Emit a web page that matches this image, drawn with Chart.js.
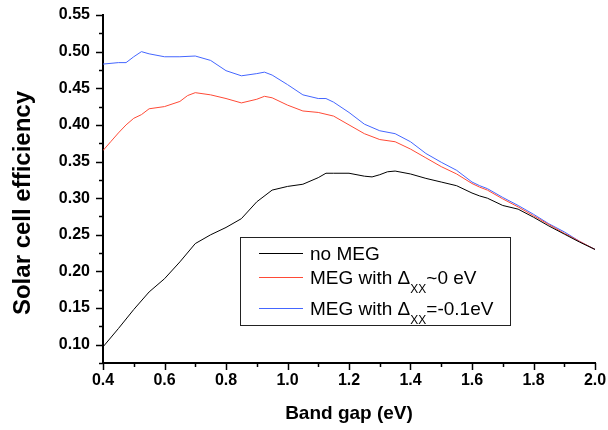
<!DOCTYPE html>
<html>
<head>
<meta charset="utf-8">
<script src="https://cdn.jsdelivr.net/npm/chart.js@4"></script>
<style>
  html, body { margin: 0; padding: 0; background: #fff; }
  #wrap { width: 608px; height: 430px; position: relative; }
</style>
</head>
<body>
<div id="wrap"><canvas id="chart"></canvas></div>
<script>
// band gap (eV) and efficiency
const blackGap = [0.40,0.45,0.50,0.55,0.60,0.65,0.70,0.75,0.80,0.85,0.90,0.95,1.00,1.05,1.10,1.125,1.15,1.20,1.25,1.275,1.30,1.325,1.35,1.40,1.45,1.50,1.55,1.60,1.625,1.65,1.70,1.75,1.80,1.85,1.90,1.95,2.00];
const blackEff = [0.097,0.122,0.148,0.172,0.190,0.213,0.238,0.250,0.260,0.272,0.295,0.311,0.316,0.319,0.328,0.334,0.334,0.334,0.330,0.329,0.332,0.336,0.337,0.333,0.327,0.322,0.317,0.307,0.303,0.300,0.290,0.285,0.274,0.262,0.251,0.240,0.230];

const redGap = [0.40,0.425,0.45,0.475,0.50,0.525,0.55,0.60,0.65,0.675,0.70,0.75,0.80,0.85,0.90,0.925,0.95,1.00,1.05,1.10,1.15,1.20,1.25,1.30,1.35,1.40,1.45,1.50,1.55,1.60,1.625,1.65,1.70,1.75,1.80,1.85,1.90,1.95,2.00];
const redEff = [0.365,0.377,0.389,0.400,0.409,0.414,0.422,0.425,0.432,0.440,0.444,0.441,0.436,0.430,0.435,0.439,0.437,0.427,0.419,0.417,0.412,0.400,0.388,0.380,0.377,0.367,0.355,0.343,0.333,0.320,0.315,0.311,0.299,0.288,0.276,0.264,0.252,0.241,0.230];

const blueGap = [0.40,0.45,0.475,0.50,0.525,0.55,0.60,0.65,0.70,0.75,0.80,0.85,0.90,0.925,0.95,1.00,1.05,1.10,1.125,1.15,1.20,1.25,1.30,1.35,1.40,1.45,1.50,1.55,1.60,1.625,1.65,1.70,1.75,1.80,1.85,1.90,1.95,2.00];
const blueEff = [0.483,0.485,0.485,0.493,0.500,0.497,0.493,0.493,0.494,0.488,0.474,0.467,0.470,0.472,0.468,0.455,0.441,0.436,0.436,0.431,0.417,0.401,0.392,0.388,0.377,0.361,0.349,0.338,0.322,0.317,0.313,0.301,0.290,0.278,0.265,0.254,0.241,0.230];

const legendRows = [
  { color: '#000000', text: 'no MEG', sub: '', tail: '' },
  { color: '#ff4a36', text: 'MEG with \u0394', sub: 'XX', tail: '~0 eV' },
  { color: '#4466ff', text: 'MEG with \u0394', sub: 'XX', tail: '=-0.1eV' }
];

const FONT = '"Liberation Sans", Arial, sans-serif';

function pts(xs, ys) {
  return xs.map(function (x, i) { return { x: x, y: ys[i] }; });
}

// minor/major tick marks, axis titles and the boxed legend
const extras = {
  id: 'extras',
  afterDraw(chart) {
    const ctx = chart.ctx;
    const xs = chart.scales.x, ys = chart.scales.y;
    const area = chart.chartArea;
    ctx.save();
    ctx.strokeStyle = '#000';
    ctx.lineWidth = 1.5;
    ys.ticks.forEach(function (t) {
      const k = Math.round(t.value * 1000);
      const len = k % 50 === 0 ? 7 : 4;
      const py = Math.round(ys.getPixelForValue(t.value)) + 0.5;
      ctx.beginPath();
      ctx.moveTo(area.left - len, py);
      ctx.lineTo(area.left, py);
      ctx.stroke();
    });
    xs.ticks.forEach(function (t) {
      const k = Math.round(t.value * 10);
      const len = k % 2 === 0 ? 7 : 4;
      const px = Math.round(xs.getPixelForValue(t.value)) + 0.5;
      ctx.beginPath();
      ctx.moveTo(px, area.bottom);
      ctx.lineTo(px, area.bottom + len);
      ctx.stroke();
    });

    // axis titles
    ctx.fillStyle = '#000';
    ctx.textAlign = 'center';
    ctx.textBaseline = 'alphabetic';
    ctx.font = 'bold 19px ' + FONT;
    ctx.fillText('Band gap (eV)', (area.left + area.right) / 2, 419);
    ctx.save();
    ctx.translate(30, 203);
    ctx.rotate(-Math.PI / 2);
    ctx.font = 'bold 24px ' + FONT;
    ctx.fillText('Solar cell efficiency', 0, 0);
    ctx.restore();

    // legend
    ctx.lineWidth = 1;
    ctx.strokeStyle = '#222';
    ctx.strokeRect(240.5, 237.5, 270, 88);
    const lineY = [253.5, 277.5, 308.5];
    const baseY = [259.5, 283.5, 315];
    ctx.textAlign = 'left';
    legendRows.forEach(function (r, i) {
      ctx.strokeStyle = r.color;
      ctx.lineWidth = 1.2;
      ctx.beginPath();
      ctx.moveTo(259, lineY[i]);
      ctx.lineTo(303, lineY[i]);
      ctx.stroke();
      ctx.fillStyle = '#000';
      ctx.font = '19px ' + FONT;
      let x = 310;
      ctx.fillText(r.text, x, baseY[i]);
      x += ctx.measureText(r.text).width;
      if (r.sub) {
        ctx.font = '12px ' + FONT;
        ctx.fillText(r.sub, x, baseY[i] + 9);
        x += ctx.measureText(r.sub).width;
        ctx.font = '19px ' + FONT;
        ctx.fillText(r.tail, x, baseY[i]);
      }
    });
    ctx.restore();
  }
};

const chartEl = document.getElementById('chart');
const effChart = new Chart(chartEl, {
  type: 'line',
  data: {
    datasets: [
      { label: 'no MEG', data: pts(blackGap, blackEff), borderColor: '#000000', borderWidth: 1 },
      { label: 'MEG with \u0394XX~0 eV', data: pts(redGap, redEff), borderColor: '#ff4a36', borderWidth: 1 },
      { label: 'MEG with \u0394XX=-0.1eV', data: pts(blueGap, blueEff), borderColor: '#4466ff', borderWidth: 1 }
    ]
  },
  options: {
    responsive: true,
    maintainAspectRatio: false,
    animation: false,
    layout: { padding: { top: 15, right: 13, left: 0, bottom: 0 } },
    elements: { point: { radius: 0 }, line: { tension: 0 } },
    plugins: { legend: { display: false }, tooltip: { enabled: false } },
    scales: {
      x: {
        type: 'linear',
        min: 0.4,
        max: 2.0,
        afterFit: function (s) {
          s.height = 67;
          s.paddingLeft = 0;
          s.paddingRight = 0;
        },
        grid: { display: true, drawOnChartArea: false, drawTicks: false },
        border: { display: true, color: '#000', width: 2 },
        ticks: {
          stepSize: 0.1,
          autoSkip: false,
          maxRotation: 0,
          padding: 8,
          color: '#000',
          font: { family: FONT, size: 16, weight: 'bold' },
          callback: function (v) { return Math.round(v * 10) % 2 === 0 ? v.toFixed(1) : ''; }
        }
      },
      y: {
        min: 0.075,
        max: 0.55,
        afterFit: function (s) {
          s.width = 103;
          s.paddingTop = 0;
          s.paddingBottom = 0;
        },
        grid: { display: true, drawOnChartArea: false, drawTicks: false },
        border: { display: true, color: '#000', width: 2 },
        ticks: {
          stepSize: 0.025,
          autoSkip: false,
          padding: 13,
          color: '#000',
          font: { family: FONT, size: 16, weight: 'bold' },
          callback: function (v) {
            const k = Math.round(v * 1000);
            return (k % 50 === 0 && k >= 100) ? v.toFixed(2) : '';
          }
        }
      }
    }
  },
  plugins: [extras]
});
</script>
</body>
</html>
